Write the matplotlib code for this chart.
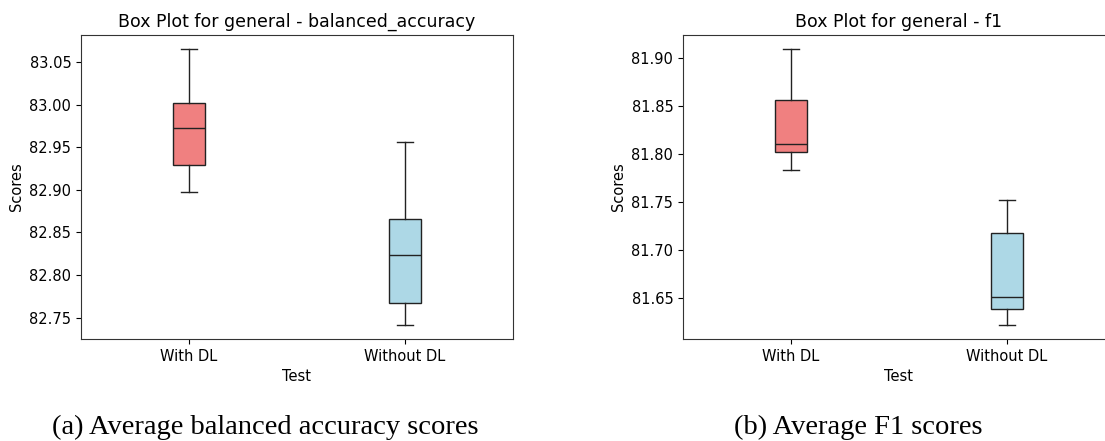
import matplotlib.pyplot as plt

groups = ["With DL", "Without DL"]
colors = ["lightcoral", "lightblue"]

# balanced accuracy: whisker low, q1, median, q3, whisker high
ba_lo = [82.898, 82.741]
ba_q1 = [82.929, 82.767]
ba_med = [82.973, 82.824]
ba_q3 = [83.002, 82.866]
ba_hi = [83.066, 82.957]

# f1
f1_lo = [81.784, 81.622]
f1_q1 = [81.802, 81.639]
f1_med = [81.811, 81.651]
f1_q3 = [81.857, 81.718]
f1_hi = [81.910, 81.752]

titles = ["Box Plot for general - balanced_accuracy", "Box Plot for general - f1"]
captions = ["(a) Average balanced accuracy scores", "(b) Average F1 scores"]


def make_stats(lo, q1, med, q3, hi):
    stats = []
    for i in range(len(groups)):
        stats.append({"label": groups[i], "whislo": lo[i], "q1": q1[i], "med": med[i],
                      "q3": q3[i], "whishi": hi[i], "fliers": []})
    return stats


fig = plt.figure(figsize=(11.05, 4.41), dpi=100)
ax1 = fig.add_axes([81 / 1105, 1 - 339 / 441, 432 / 1105, 304 / 441])
ax2 = fig.add_axes([683 / 1105, 1 - 339 / 441, 432 / 1105, 304 / 441])

data = [make_stats(ba_lo, ba_q1, ba_med, ba_q3, ba_hi),
        make_stats(f1_lo, f1_q1, f1_med, f1_q3, f1_hi)]

line = "#222222"
for ax, st, title in zip([ax1, ax2], data, titles):
    bp = ax.bxp(st, widths=0.15, patch_artist=True, showfliers=False,
                medianprops=dict(color=line), whiskerprops=dict(color=line),
                capprops=dict(color=line), boxprops=dict(edgecolor=line))
    for patch, c in zip(bp["boxes"], colors):
        patch.set_facecolor(c)
    ax.set_title(title, fontsize=12.5)
    ax.set_xlabel("Test", fontsize=10.5)
    ax.set_ylabel("Scores", fontsize=10.5)
    ax.tick_params(labelsize=10.5)
    for s in ax.spines.values():
        s.set_color("#333333")

fig.text(265 / 1105, 1 - 427 / 441, captions[0], family="Liberation Serif",
         fontsize=20.5, ha="center", va="center")
fig.text(858 / 1105, 1 - 427 / 441, captions[1], family="Liberation Serif",
         fontsize=20.5, ha="center", va="center")

fig.savefig("out.png", dpi=100)
